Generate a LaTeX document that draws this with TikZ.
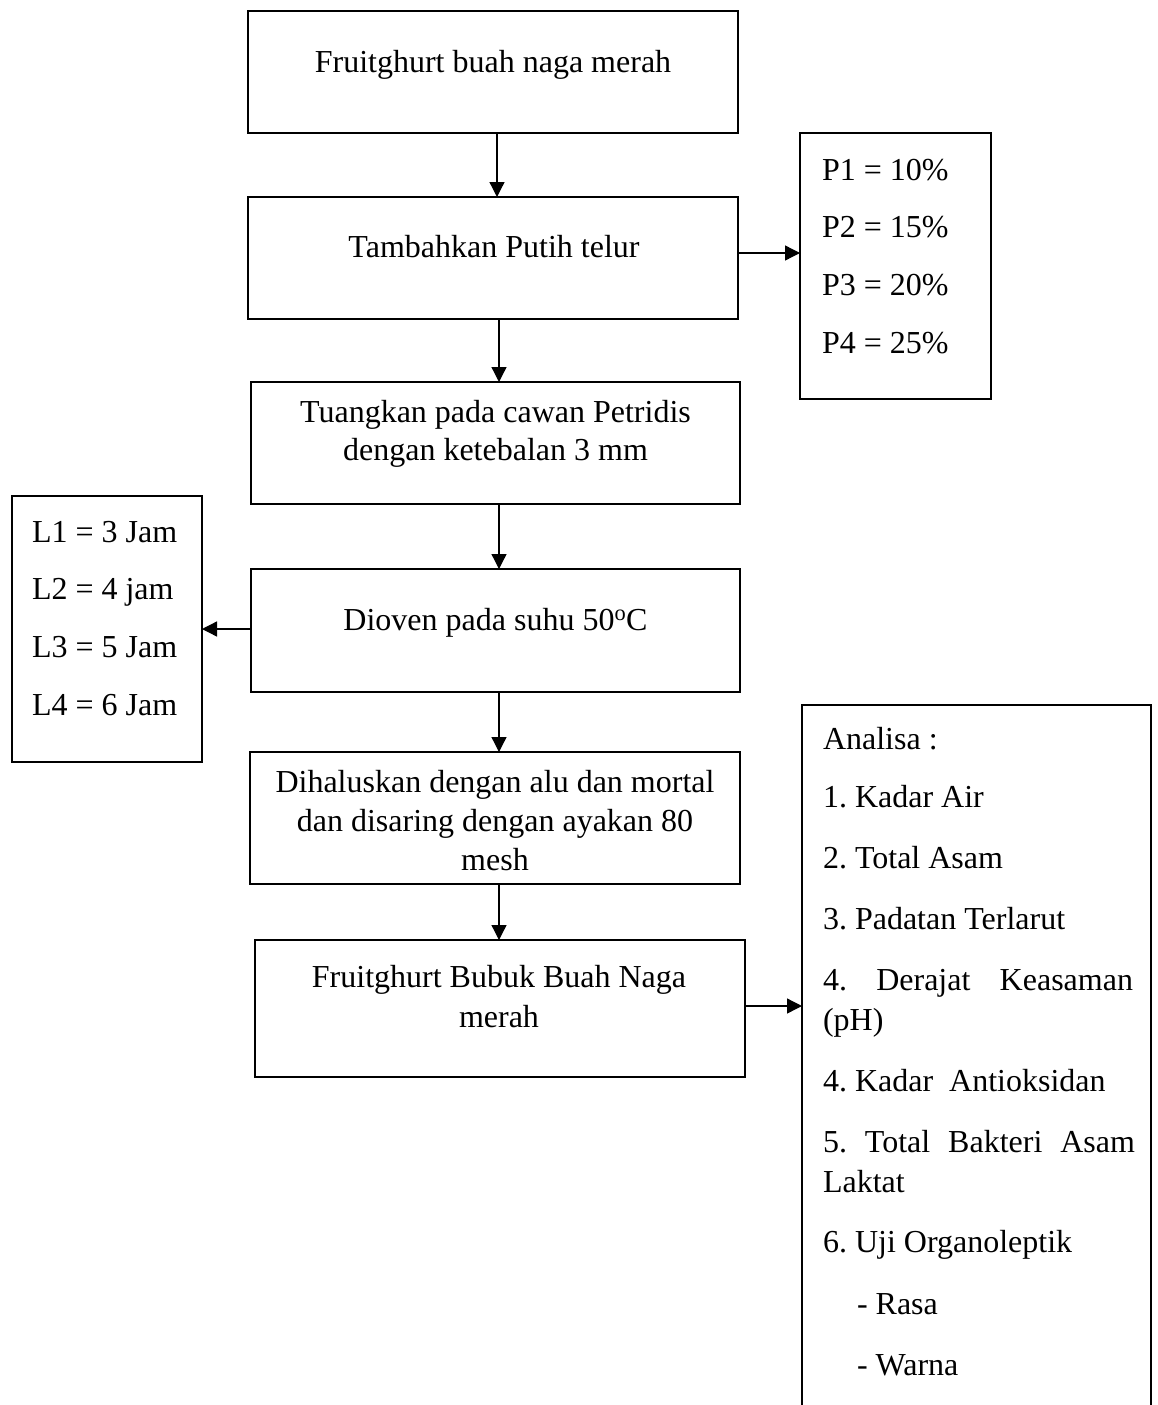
\documentclass[tikz,border=0pt]{standalone}
\usepackage{fontspec}
\setmainfont{Liberation Serif}
\usetikzlibrary{arrows.meta}
\frenchspacing
\begin{document}
\begin{tikzpicture}[x=1pt,y=-1pt,
  box/.style={draw,line width=2.2pt,inner sep=0pt,outer sep=0pt},
  txt/.style={inner sep=0pt,outer sep=0pt,font=\fontsize{32}{39}\selectfont\frenchspacing},
  arr/.style={line width=1.3pt,-{Triangle[length=15pt,width=15pt]}}]
\useasboundingbox (0,0) rectangle (1157,1405);
\clip (0,0) rectangle (1157,1405);
% main boxes
\node[box,minimum width=490pt,minimum height=122pt] (b1) at (493,72) {};
\node[box,minimum width=490pt,minimum height=122pt] (b2) at (493,258) {};
\node[box,minimum width=489pt,minimum height=122pt] (b3) at (495.5,443) {};
\node[box,minimum width=489pt,minimum height=123pt] (b4) at (495.5,630.5) {};
\node[box,minimum width=490pt,minimum height=132pt] (b5) at (495,818) {};
\node[box,minimum width=490pt,minimum height=137pt] (b6) at (500,1008.5) {};
% side boxes
\node[box,minimum width=191pt,minimum height=266pt] (pb) at (895.5,266) {};
\node[box,minimum width=190pt,minimum height=266pt] (lb) at (107,629) {};
\node[box,minimum width=349pt,minimum height=730pt] (ab) at (976.5,1070) {};
% texts in main boxes
\node[txt,anchor=base] (t1) at (493,72) {Fruitghurt buah naga merah};
\node[txt,anchor=base] (t2) at (494,257) {Tambahkan Putih telur};
\node[txt,anchor=base] (t3a) at (495.5,422) {Tuangkan pada cawan Petridis};
\node[txt,anchor=base] (t3b) at (495.5,460) {dengan ketebalan 3 mm};
\node[txt,anchor=base] (t4) at (495.5,630) {Dioven pada suhu 50\textsuperscript{o}C};
\node[txt,anchor=base] (t5a) at (495,792) {Dihaluskan dengan alu dan mortal};
\node[txt,anchor=base] (t5b) at (495,831) {dan disaring dengan ayakan 80};
\node[txt,anchor=base] (t5c) at (495,870) {mesh};
\node[txt,anchor=base] (t6a) at (499,987) {Fruitghurt Bubuk Buah Naga};
\node[txt,anchor=base] (t6b) at (499,1027) {merah};
% P box
\node[txt,anchor=base west] (p1) at (822,180) {P1 = 10\%};
\node[txt,anchor=base west] (p2) at (822,237) {P2 = 15\%};
\node[txt,anchor=base west] (p3) at (822,295) {P3 = 20\%};
\node[txt,anchor=base west] (p4) at (822,353) {P4 = 25\%};
% L box
\node[txt,anchor=base west] (l1) at (32,542) {L1 = 3 Jam};
\node[txt,anchor=base west] (l2) at (32,599) {L2 = 4 jam};
\node[txt,anchor=base west] (l3) at (32,657) {L3 = 5 Jam};
\node[txt,anchor=base west] (l4) at (32,715) {L4 = 6 Jam};
% Analisa box
\node[txt,anchor=base west] (a0) at (823,749) {Analisa :};
\node[txt,anchor=base west] (a1) at (823,807) {1. Kadar Air};
\node[txt,anchor=base west] (a2) at (823,868) {2. Total Asam};
\node[txt,anchor=base west] (a3) at (823,929) {3. Padatan Terlarut};
\node[txt,anchor=base west] (a4a) at (823,990) {\makebox[310pt][s]{4. Derajat Keasaman}};
\node[txt,anchor=base west] (a4b) at (823,1030) {(pH)};
\node[txt,anchor=base west] (a5) at (823,1091) {4. Kadar\ \ Antioksidan};
\node[txt,anchor=base west] (a6a) at (823,1152) {\makebox[312pt][s]{5. Total Bakteri Asam}};
\node[txt,anchor=base west] (a6b) at (823,1192) {Laktat};
\node[txt,anchor=base west] (a7) at (823,1252) {6. Uji Organoleptik};
\node[txt,anchor=base west] (a8) at (857,1314) {- Rasa};
\node[txt,anchor=base west] (a9) at (857,1375) {- Warna};
% connector start points
\coordinate (s2) at ([yshift=5pt]b2.east);
\coordinate (s4) at ([yshift=1.5pt]b4.west);
\coordinate (s6) at ([yshift=2.5pt]b6.east);
% connectors
\draw[arr] ([xshift=4pt]b1.south) -- ([xshift=4pt]b1.south |- b2.north);
\draw[arr] ([xshift=6pt]b2.south) -- ([xshift=6pt]b2.south |- b3.north);
\draw[arr] ([xshift=3.5pt]b3.south) -- ([xshift=3.5pt]b3.south |- b4.north);
\draw[arr] ([xshift=3.5pt]b4.south) -- ([xshift=3.5pt]b4.south |- b5.north);
\draw[arr] ([xshift=4pt]b5.south) -- ([xshift=4pt]b5.south |- b6.north);
\draw[arr] (s2) -- (pb.west |- s2);
\draw[arr] (s4) -- (lb.east |- s4);
\draw[arr] (s6) -- (ab.west |- s6);
\end{tikzpicture}
\end{document}
